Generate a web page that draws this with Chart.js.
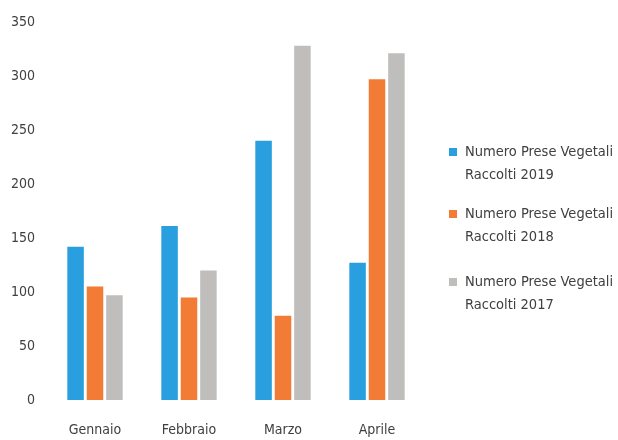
<!DOCTYPE html>
<html lang="it">
<head>
    <meta charset="UTF-8">
    <title>Numero Prese Vegetali Raccolti</title>
    <script src="https://cdn.jsdelivr.net/npm/chart.js"></script>
    <style>
        body { margin: 0; background: #fff; }
        #wrap { width: 618px; height: 440px; }
    </style>
</head>
<body>
    <div id="wrap"><canvas id="myChart" width="618" height="440"></canvas></div>
    <script>
        // dati
        const mesi = ['Gennaio', 'Febbraio', 'Marzo', 'Aprile'];
        const raccolti2019 = [142, 161, 240, 127];
        const raccolti2018 = [105, 95, 78, 297];
        const raccolti2017 = [97, 120, 328, 321];
        const etichette = [
            ['Numero Prese Vegetali', 'Raccolti 2019'],
            ['Numero Prese Vegetali', 'Raccolti 2018'],
            ['Numero Prese Vegetali', 'Raccolti 2017']
        ];
        const colori = ['#2a9fe0', '#f27b35', '#bfbebd'];

        const font = '"Liberation Sans Narrow", "DejaVu Sans Condensed", sans-serif';

        // legenda a destra su due righe
        const legendaDestra = {
            id: 'legendaDestra',
            afterDraw(chart) {
                const ctx = chart.ctx;
                const tops = [152, 214, 282];
                ctx.save();
                ctx.font = '14.5px ' + font;
                ctx.textBaseline = 'middle';
                chart.data.datasets.forEach((ds, i) => {
                    const y = tops[i];
                    ctx.fillStyle = ds.backgroundColor;
                    ctx.fillRect(449, y - 4, 8, 8);
                    ctx.fillStyle = '#404040';
                    ds.label.forEach((riga, j) => {
                        ctx.fillText(riga, 465, y + j * 23);
                    });
                });
                ctx.restore();
            }
        };

        const ctx = document.getElementById('myChart').getContext('2d');
        const myChart = new Chart(ctx, {
            type: 'bar',
            data: {
                labels: mesi,
                datasets: [
                    { label: etichette[0], data: raccolti2019, backgroundColor: colori[0] },
                    { label: etichette[1], data: raccolti2018, backgroundColor: colori[1] },
                    { label: etichette[2], data: raccolti2017, backgroundColor: colori[2] }
                ]
            },
            options: {
                responsive: false,
                animation: false,
                layout: { padding: { left: 6, right: 194, top: 22, bottom: 0 } },
                datasets: { bar: { categoryPercentage: 0.62, barPercentage: 0.85 } },
                plugins: {
                    legend: { display: false },
                    tooltip: { enabled: false }
                },
                scales: {
                    x: {
                        grid: { display: false, drawTicks: false },
                        border: { display: false },
                        ticks: { color: '#404040', padding: 22, font: { family: font, size: 14 } },
                        afterFit(scale) { scale.height = 40; }
                    },
                    y: {
                        min: 0,
                        max: 350,
                        grid: { display: false, drawTicks: false },
                        border: { display: false },
                        ticks: { stepSize: 50, color: '#404040', padding: 13, font: { family: font, size: 14 } },
                        afterFit(scale) { scale.width = 42; }
                    }
                }
            },
            plugins: [legendaDestra]
        });
    </script>
</body>
</html>
